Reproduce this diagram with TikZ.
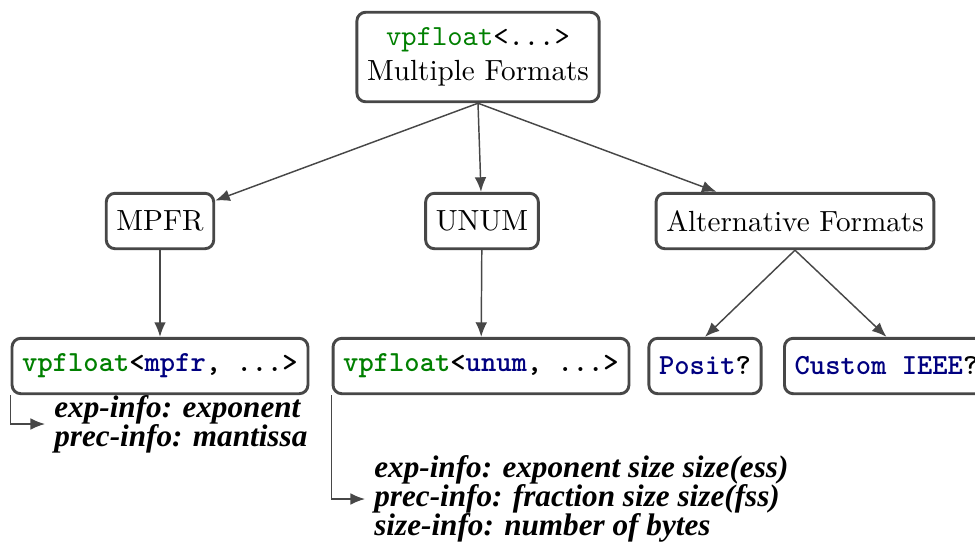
\documentclass[tikz,border=0pt]{standalone}
\usepackage{fontspec}
\usetikzlibrary{arrows.meta}
\newfontfamily\infofont{Liberation Serif}
\definecolor{tgreen}{rgb}{0,0.5,0}
\definecolor{tnavy}{rgb}{0,0,0.5}
\definecolor{edgegray}{gray}{0.28}
\newcommand{\vpf}{\textcolor{tgreen}{vpfloat}}
\newcommand{\backend}[1]{\textcolor{tnavy}{#1}}
\begin{document}
\begin{tikzpicture}[x=0.343pt,y=-0.343pt,
    fmt/.style={draw=edgegray, line width=1pt, rounded corners=3pt,
                minimum height=19pt, inner xsep=3.5pt, fill=white},
    code/.style={fmt, font=\ttfamily\bfseries},
    info/.style={align=left, inner sep=3pt,
                 font=\infofont\bfseries\itshape\fontsize{10.7}{10}\selectfont},
    link/.style={-{Latex[length=5pt,width=4pt]}, draw=edgegray, line width=0.5pt}]
  \useasboundingbox (0,0) rectangle (975,544);
  % root
  \node[fmt, align=center, inner ysep=5.3pt] (root) at (478,57)
    {{\ttfamily\vpf<...>}\\Multiple Formats};
  % families
  \node[fmt] (mpfr) at (160,221) {MPFR};
  \node[fmt] (unum) at (482,221) {UNUM};
  \node[fmt] (alt) at (795,221) {Alternative Formats};
  % types
  \node[code] (mpfrtype) at (160,366) {\vpf<\backend{mpfr}, ...>};
  \node[code] (unumtype) at (481,366) {\vpf<\backend{unum}, ...>};
  \node[code] (posit) at (705,366) {\backend{Posit}?};
  \node[code, anchor=west] (custom) at (783,366) {\backend{Custom IEEE}?};
  % descriptions
  \node[info, anchor=west] (mpfrinfo) at (45,424)
    {exp-info: exponent\\prec-info: mantissa};
  \node[info, anchor=west] (unuminfo) at (365,499)
    {exp-info: exponent size size(ess)\\prec-info: fraction size size(fss)\\size-info: number of bytes};

  \draw[link] (root.south) -- (mpfr);
  \draw[link] (root.south) -- (unum);
  \draw[link] (root.south) -- (alt);
  \draw[link] (mpfr) -- (mpfrtype);
  \draw[link] (unum) -- (unumtype);
  \draw[link] (alt.south) -- (posit.north);
  \draw[link] (alt.south) -- (custom.north);
  \draw[link] (mpfrtype.south west) |- (mpfrinfo.west);
  \draw[link] (unumtype.south west) |- (unuminfo.west);
\end{tikzpicture}
\end{document}
